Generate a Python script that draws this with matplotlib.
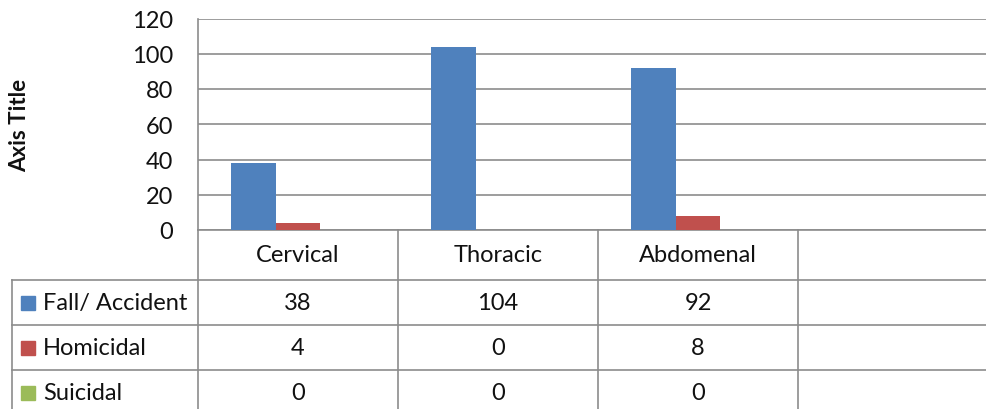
import matplotlib.pyplot as plt
from matplotlib.patches import Rectangle

# chart data
categories = ['Cervical', 'Thoracic', 'Abdomenal', '']
series = ['Fall/ Accident', 'Homicidal', 'Suicidal']
fall_accident = [38, 104, 92]
homicidal = [4, 0, 8]
suicidal = [0, 0, 0]
yticks = [0, 20, 40, 60, 80, 100, 120]

values = [fall_accident, homicidal, suicidal]
colors = ['#4F81BD', '#C0504D', '#9BBB59']
line_c = '#8C8C8C'
txt_c = '#111111'

plt.rcParams['font.family'] = ['Lato', 'DejaVu Sans']

W, H = 987, 410
fig = plt.figure(figsize=(W / 100, H / 100), dpi=100)


def px(x0, y0, x1, y1):
    # pixel box -> figure fraction
    return [x0 / W, 1 - y1 / H, (x1 - x0) / W, (y1 - y0) / H]


# column chart
ax = fig.add_axes(px(198, 19.5, 998, 231))
bw = 1 / 4.5
for k, vals in enumerate(values):
    xs = [i + (k - 1) * bw for i in range(len(vals))]
    ax.bar(xs, vals, width=bw, color=colors[k], zorder=3)

ax.set_xlim(-0.5, len(categories) - 0.5)
ax.set_ylim(0, 120)
ax.set_yticks(yticks)
ax.set_xticks([])
ax.grid(axis='y', color=line_c, lw=1.2, zorder=0)
for s in ['top', 'right']:
    ax.spines[s].set_visible(False)
for s in ['left', 'bottom']:
    ax.spines[s].set_color(line_c)
    ax.spines[s].set_linewidth(1.2)
ax.tick_params(axis='y', length=0, pad=18, labelsize=17, labelcolor=txt_c)

fig.text(19.5 / W, 1 - 125 / H, 'Axis Title', rotation=90, ha='center', va='center',
         fontsize=16, fontweight='bold', color=txt_c)

# data table underneath
tax = fig.add_axes(px(198, 231, 998, 416))
tax.set_xlim(-0.5, len(categories) - 0.5)
tax.set_ylim(416, 231)
tax.axis('off')

rows = [231, 281, 326, 371, 416]
left = -0.5 - 186 / 200
for i in range(len(categories) + 1):
    tax.plot([i - 0.5, i - 0.5], [rows[0], rows[-1]], color=line_c, lw=1.2, clip_on=False)
for y in rows[1:-1]:
    tax.plot([left, len(categories) - 0.5], [y, y], color=line_c, lw=1.2, clip_on=False)
tax.plot([left, left], [rows[1], rows[-1]], color=line_c, lw=1.2, clip_on=False)

for i, cat in enumerate(categories):
    tax.text(i, (rows[0] + rows[1]) / 2, cat, ha='center', va='center', fontsize=17, color=txt_c)

for k, name in enumerate(series):
    yc = (rows[k + 1] + rows[k + 2]) / 2
    tax.add_patch(Rectangle((left + 9 / 200, yc - 7), 14 / 200, 14, color=colors[k], clip_on=False))
    tax.text(left + 31 / 200, yc, name, ha='left', va='center', fontsize=17, color=txt_c)
    for i, v in enumerate(values[k]):
        tax.text(i, yc, str(v), ha='center', va='center', fontsize=17, color=txt_c)

fig.savefig('out.png', dpi=100)
